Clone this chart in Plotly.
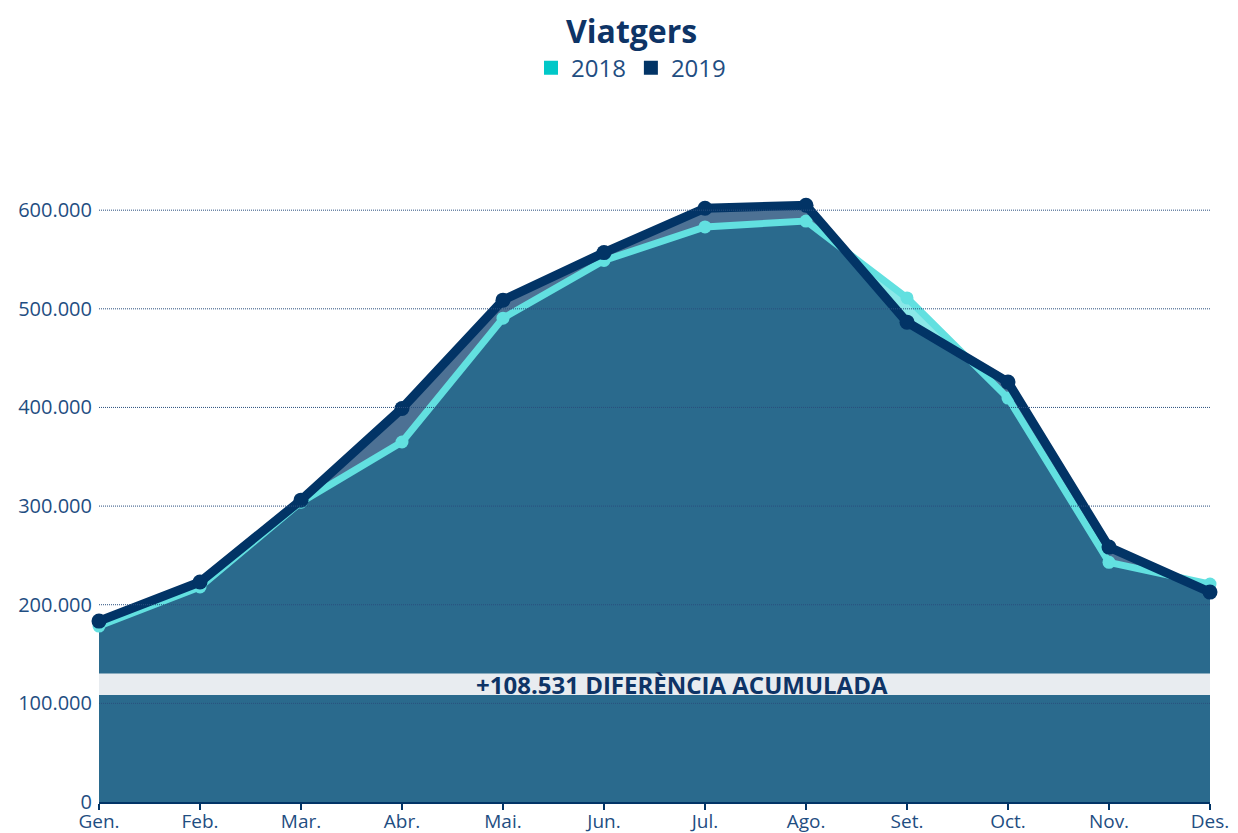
import plotly.graph_objects as go

months = ["Gen.", "Feb.", "Mar.", "Abr.", "Mai.", "Jun.", "Jul.", "Ago.", "Set.", "Oct.", "Nov.", "Des."]
viatgers_2018 = [178400, 218000, 304000, 365000, 490500, 549000, 583000, 589000, 511000, 409500, 243000, 221000]
viatgers_2019 = [183400, 223000, 306000, 399000, 508800, 557000, 602000, 605000, 486500, 425700, 258400, 212800]
y_ticks = [0, 100000, 200000, 300000, 400000, 500000, 600000]
diff_acumulada = 108531
band_range = [108400, 130400]

NAVY = "#023466"
CYAN_LINE = "#62E0E0"
CYAN_LEG = "#00C8C8"
TEXT = "#1F4E82"
FONT = "Open Sans"

fig = go.Figure()

# fills
fig.add_trace(go.Scatter(x=months, y=viatgers_2018, mode="none", fill="tozeroy",
                         fillcolor="rgba(99,224,224,0.75)", showlegend=False, hoverinfo="skip"))
fig.add_trace(go.Scatter(x=months, y=viatgers_2019, mode="none", fill="tozeroy",
                         fillcolor="rgba(2,52,102,0.70)", showlegend=False, hoverinfo="skip"))
# lines
fig.add_trace(go.Scatter(x=months, y=viatgers_2018, mode="lines+markers", name="2018",
                         line=dict(color=CYAN_LINE, width=7),
                         marker=dict(color=CYAN_LINE, size=13), cliponaxis=False, showlegend=False))
fig.add_trace(go.Scatter(x=months, y=viatgers_2019, mode="lines+markers", name="2019",
                         line=dict(color=NAVY, width=9),
                         marker=dict(color=NAVY, size=15), cliponaxis=False, showlegend=False))
# legend entries
fig.add_trace(go.Scatter(x=[None], y=[None], mode="markers", name="2018",
                         marker=dict(symbol="square", color=CYAN_LEG, size=14)))
fig.add_trace(go.Scatter(x=[None], y=[None], mode="markers", name="2019",
                         marker=dict(symbol="square", color=NAVY, size=14)))

shapes = []
for t in y_ticks[1:]:
    shapes.append(dict(type="line", xref="paper", yref="y", x0=0, x1=1, y0=t, y1=t,
                       line=dict(color="#2A4F7E", width=1, dash="1px,1px"), layer="above"))
shapes.append(dict(type="rect", xref="paper", yref="y", x0=0, x1=1,
                   y0=band_range[0], y1=band_range[1],
                   fillcolor="#E8ECF0", line=dict(width=0), layer="above"))

diff_text = "+" + f"{diff_acumulada:,}".replace(",", ".") + " DIFERÈNCIA ACUMULADA"

fig.update_layout(
    width=1230, height=825,
    paper_bgcolor="white", plot_bgcolor="white",
    separators=",.",
    font=dict(family=FONT, color=TEXT, size=20),
    margin=dict(l=91, r=28, t=143, b=31, autoexpand=False),
    title=dict(text="<b>Viatgers</b>", x=0.507, xref="container", xanchor="center",
               y=0.971, yref="container", yanchor="middle",
               font=dict(family=FONT, size=32, color="#0E3466")),
    legend=dict(orientation="h", x=0.5065, xref="container", xanchor="center",
                y=0.927, yref="container", yanchor="middle",
                font=dict(family=FONT, size=24, color=TEXT),
                itemwidth=30, traceorder="normal", bgcolor="rgba(0,0,0,0)"),
    shapes=shapes,
    annotations=[dict(text="<b>" + diff_text + "</b>", xref="paper", yref="y",
                      x=0.525, y=(band_range[0] + band_range[1]) / 2,
                      xanchor="center", yanchor="middle", showarrow=False,
                      font=dict(family=FONT, size=24, color="#0E3466"))],
    xaxis=dict(range=[0, 11], showgrid=False, showline=True, linecolor=NAVY, linewidth=2,
               ticks="outside", ticklen=6, tickwidth=2, tickcolor=NAVY, automargin=False,
               ticklabelstandoff=-5,
               tickfont=dict(size=19, color=TEXT), zeroline=False, fixedrange=True),
    yaxis=dict(range=[0, 660000], tickvals=y_ticks, tickformat=",d", showgrid=False,
               zeroline=False, showline=False, ticks="", ticklabelstandoff=6, automargin=False,
               tickfont=dict(size=20, color=TEXT)),
)

fig.write_html("out.html")
